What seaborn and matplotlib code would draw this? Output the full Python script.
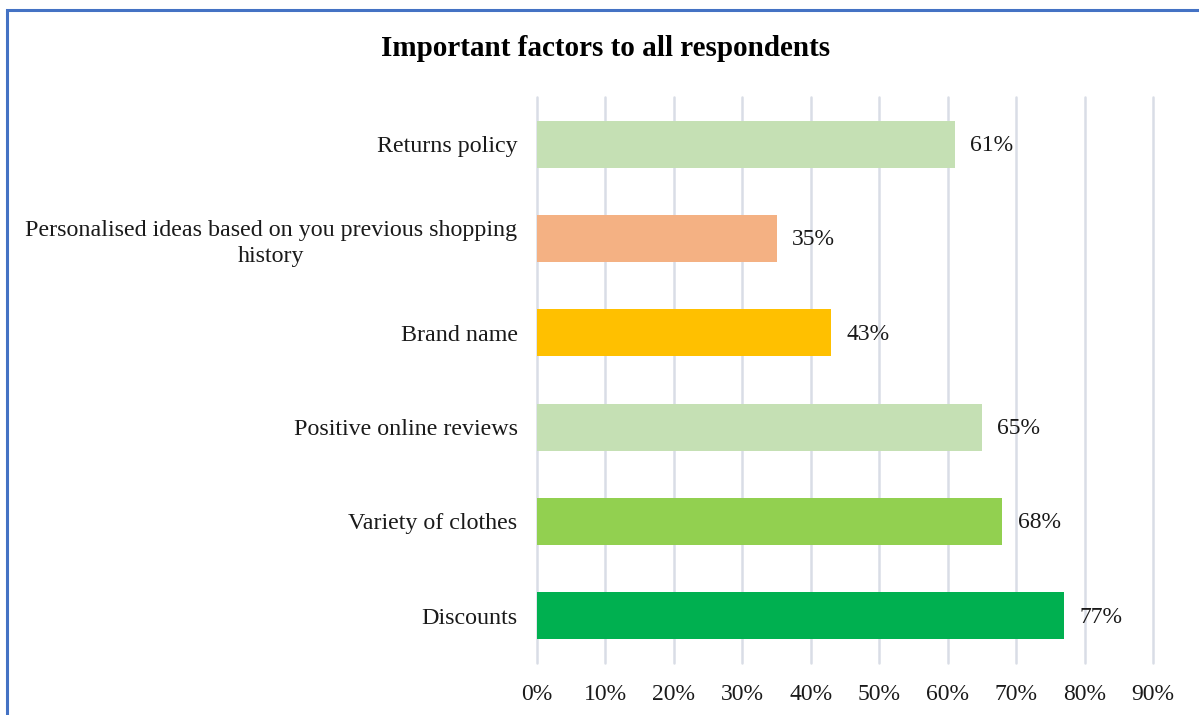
import matplotlib
matplotlib.use("Agg")
import matplotlib.pyplot as plt
import seaborn as sns
import pandas as pd
from matplotlib.patches import Rectangle
from matplotlib.ticker import MultipleLocator, FuncFormatter

factors = [
    "Returns policy",
    "Personalised ideas based on you previous shopping\nhistory",
    "Brand name",
    "Positive online reviews",
    "Variety of clothes",
    "Discounts",
]
shares = [0.61, 0.35, 0.43, 0.65, 0.68, 0.77]
colors = ["#C5E0B4", "#F4B183", "#FFC000", "#C5E0B4", "#92D050", "#00B050"]

sns.set_theme(style="white")
plt.rcParams["font.family"] = ["Liberation Serif", "DejaVu Serif"]

df = pd.DataFrame({"factor": factors, "share": shares})

fig = plt.figure(figsize=(11.99, 7.15), dpi=100)
ax = fig.add_axes([537 / 1199, 1 - 663 / 715, (1153 - 537) / 1199, (663 - 97) / 715])

sns.barplot(data=df, x="share", y="factor", hue="factor", palette=colors,
            orient="h", width=0.5, legend=False, ax=ax, saturation=1,
            linewidth=0, edgecolor="none")

ax.set_xlim(0, 0.9)
ax.set_ylim(len(factors) - 0.5, -0.5)
ax.xaxis.set_major_locator(MultipleLocator(0.1))
ax.xaxis.set_major_formatter(FuncFormatter(lambda v, p: f"{v * 100:.0f}%"))
ax.grid(axis="x", color="#D9DDE6", linewidth=1.8)
for gl in ax.get_xgridlines():
    gl.set_clip_on(False)
ax.set_axisbelow(True)
for s in ax.spines.values():
    s.set_visible(False)
ax.set_xlabel("")
ax.set_ylabel("")
ax.tick_params(axis="x", length=0, pad=15, labelsize=17, colors="#1a1a1a")
ax.tick_params(axis="y", length=0, pad=14, labelsize=17.3, colors="#1a1a1a")
for lab in ax.get_yticklabels():
    lab.set_multialignment("center")
    lab.set_linespacing(1.3)

for i, v in enumerate(shares):
    ax.annotate(f"{v * 100:.0f}%", xy=(v, i), xytext=(11, -1), textcoords="offset points",
                ha="left", va="center", fontsize=17, color="#1a1a1a")

fig.text(606 / 1199, 1 - 48 / 715, "Important factors to all respondents",
         ha="center", va="center", fontsize=21, fontweight="bold", color="#000000")

fig.patches.append(Rectangle((7 / 1199, -0.05), 1.2, 1 - 10 / 715 + 0.05,
                             transform=fig.transFigure, fill=False,
                             edgecolor="#4472C4", linewidth=2.2))

fig.savefig("out.png", dpi=100, facecolor="white")
